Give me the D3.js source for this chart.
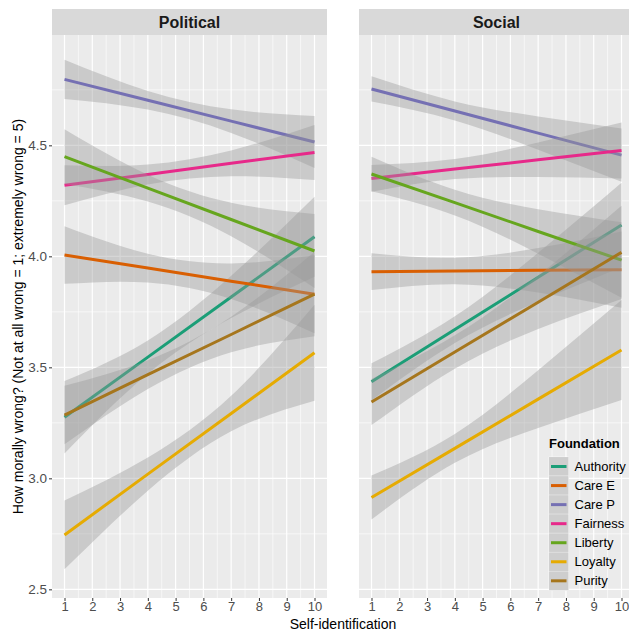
<!DOCTYPE html>
<html>
<head>
<meta charset="utf-8">
<script src="https://cdnjs.cloudflare.com/ajax/libs/d3/7.8.5/d3.min.js"></script>
<style>
body { margin: 0; background: #fff; }
text { font-family: "Liberation Sans", Arial, Helvetica, sans-serif; }
</style>
</head>
<body>
<script>
//Width and height
var w = 629;
var h = 632;

var facets = ["Political", "Social"];
var foundations = ["Authority", "Care E", "Care P", "Fairness", "Liberty", "Loyalty", "Purity"];
var colors = ["#1B9E77", "#D95F02", "#7570B3", "#E7298A", "#66A61E", "#E6AB02", "#A6761D"];

// x positions where fit and band were read
var xPoints = [1, 4, 7, 10];
var xTicks = [1, 2, 3, 4, 5, 6, 7, 8, 9, 10];
var yTicks = [2.5, 3.0, 3.5, 4.0, 4.5];

// Political facet (order = foundations)
var politicalFit = [
	[3.275, 3.546, 3.817, 4.088],
	[4.006, 3.947, 3.888, 3.829],
	[4.797, 4.703, 4.609, 4.515],
	[4.320, 4.369, 4.419, 4.468],
	[4.449, 4.307, 4.166, 4.024],
	[2.745, 3.019, 3.292, 3.566],
	[3.285, 3.467, 3.648, 3.830]
];
var politicalLower = [
	[3.112, 3.471, 3.722, 3.908],
	[3.876, 3.882, 3.808, 3.653],
	[4.709, 4.661, 4.556, 4.398],
	[4.230, 4.324, 4.361, 4.344],
	[4.326, 4.247, 4.091, 3.857],
	[2.590, 2.944, 3.212, 3.350],
	[3.153, 3.402, 3.568, 3.640]
];
var politicalUpper = [
	[3.438, 3.621, 3.912, 4.268],
	[4.136, 4.012, 3.968, 4.005],
	[4.885, 4.745, 4.662, 4.632],
	[4.410, 4.414, 4.477, 4.592],
	[4.572, 4.367, 4.241, 4.191],
	[2.900, 3.094, 3.372, 3.782],
	[3.417, 3.532, 3.728, 4.020]
];

// Social facet
var socialFit = [
	[3.435, 3.670, 3.906, 4.141],
	[3.931, 3.934, 3.937, 3.940],
	[4.754, 4.655, 4.555, 4.456],
	[4.351, 4.393, 4.435, 4.477],
	[4.371, 4.242, 4.112, 3.983],
	[2.914, 3.135, 3.357, 3.578],
	[3.344, 3.569, 3.793, 4.018]
];
var socialLower = [
	[3.352, 3.610, 3.796, 3.951],
	[3.848, 3.874, 3.837, 3.768],
	[4.697, 4.612, 4.480, 4.336],
	[4.291, 4.348, 4.357, 4.351],
	[4.293, 4.184, 4.012, 3.813],
	[2.815, 3.070, 3.227, 3.353],
	[3.240, 3.494, 3.673, 3.808]
];
var socialUpper = [
	[3.518, 3.730, 4.016, 4.331],
	[4.014, 3.994, 4.037, 4.112],
	[4.811, 4.698, 4.630, 4.576],
	[4.411, 4.438, 4.513, 4.603],
	[4.449, 4.300, 4.212, 4.153],
	[3.013, 3.200, 3.487, 3.803],
	[3.448, 3.644, 3.913, 4.228]
];

var facetData = [
	{fit: politicalFit, lower: politicalLower, upper: politicalUpper},
	{fit: socialFit, lower: socialLower, upper: socialUpper}
];

var panelLeft = [52, 359];
var panelWidth = 275;
var panelTop = 35;
var panelBottom = 598;
var stripTop = 9;

var y = d3.scaleLinear().domain([2.461, 4.997]).range([panelBottom, panelTop]);

var svg = d3.select("body")
	.append("svg")
	.attr("width", w)
	.attr("height", h);

facets.forEach(function(facet, f) {
	var x = d3.scaleLinear().domain([0.55, 10.45]).range([panelLeft[f], panelLeft[f] + panelWidth]);
	var g = svg.append("g");

	g.append("clipPath").attr("id", "clip" + f)
		.append("rect")
		.attr("x", panelLeft[f]).attr("y", panelTop)
		.attr("width", panelWidth).attr("height", panelBottom - panelTop);

	// panel background
	g.append("rect")
		.attr("x", panelLeft[f]).attr("y", panelTop)
		.attr("width", panelWidth).attr("height", panelBottom - panelTop)
		.attr("fill", "#EBEBEB");

	// minor grid
	var yMinor = yTicks.map(function(d) { return d + 0.25; });
	g.selectAll("line.ymin").data(yMinor).enter().append("line")
		.attr("x1", panelLeft[f]).attr("x2", panelLeft[f] + panelWidth)
		.attr("y1", function(d) { return y(d); }).attr("y2", function(d) { return y(d); })
		.attr("stroke", "#fff").attr("stroke-width", 0.6);
	var xMinor = xTicks.slice(0, -1).map(function(d) { return d + 0.5; });
	g.selectAll("line.xmin").data(xMinor).enter().append("line")
		.attr("y1", panelTop).attr("y2", panelBottom)
		.attr("x1", function(d) { return x(d); }).attr("x2", function(d) { return x(d); })
		.attr("stroke", "#fff").attr("stroke-width", 0.6);

	// major grid
	g.selectAll("line.ymaj").data(yTicks).enter().append("line")
		.attr("x1", panelLeft[f]).attr("x2", panelLeft[f] + panelWidth)
		.attr("y1", function(d) { return y(d); }).attr("y2", function(d) { return y(d); })
		.attr("stroke", "#fff").attr("stroke-width", 1.2);
	g.selectAll("line.xmaj").data(xTicks).enter().append("line")
		.attr("y1", panelTop).attr("y2", panelBottom)
		.attr("x1", function(d) { return x(d); }).attr("x2", function(d) { return x(d); })
		.attr("stroke", "#fff").attr("stroke-width", 1.2);

	// smooths: ribbon then line, group by group
	var data = facetData[f];
	var area = d3.area()
		.x(function(d) { return x(d.x); })
		.y0(function(d) { return y(d.lo); })
		.y1(function(d) { return y(d.hi); })
		.curve(d3.curveNatural);
	var line = d3.line()
		.x(function(d) { return x(d.x); })
		.y(function(d) { return y(d.fit); });

	var plot = g.append("g").attr("clip-path", "url(#clip" + f + ")");
	foundations.forEach(function(name, i) {
		var pts = xPoints.map(function(xv, k) {
			return {x: xv, fit: data.fit[i][k], lo: data.lower[i][k], hi: data.upper[i][k]};
		});
		plot.append("path").attr("d", area(pts))
			.attr("fill", "#999999").attr("fill-opacity", 0.4);
		plot.append("path").attr("d", line(pts))
			.attr("fill", "none").attr("stroke", colors[i]).attr("stroke-width", 3);
	});

	// strip
	g.append("rect")
		.attr("x", panelLeft[f]).attr("y", stripTop)
		.attr("width", panelWidth).attr("height", panelTop - stripTop)
		.attr("fill", "#D9D9D9");
	g.append("text")
		.attr("x", panelLeft[f] + panelWidth / 2).attr("y", stripTop + 19)
		.attr("text-anchor", "middle")
		.attr("font-size", "16px").attr("font-weight", "bold")
		.attr("fill", "#1A1A1A")
		.text(facet);

	// x axis
	var xAxis = d3.axisBottom(x).tickValues(xTicks).tickSize(3).tickPadding(1).tickFormat(d3.format("d"));
	var xa = g.append("g").attr("transform", "translate(0," + panelBottom + ")").call(xAxis);
	xa.select(".domain").remove();
	xa.selectAll("line").attr("stroke", "#333333");
	xa.selectAll("text").attr("fill", "#4D4D4D").attr("font-size", "13px")
		.attr("font-family", "Liberation Sans, Arial, sans-serif");
});

// y axis on the left panel only
var yAxis = d3.axisLeft(y).tickValues(yTicks).tickSize(3).tickPadding(2).tickFormat(d3.format(".1f"));
var ya = svg.append("g").attr("transform", "translate(" + panelLeft[0] + ",0)").call(yAxis);
ya.select(".domain").remove();
ya.selectAll("line").attr("stroke", "#333333");
ya.selectAll("text").attr("fill", "#4D4D4D").attr("font-size", "13.5px")
	.attr("font-family", "Liberation Sans, Arial, sans-serif");

// axis titles
svg.append("text")
	.attr("x", (panelLeft[0] + panelLeft[1] + panelWidth) / 2).attr("y", 629)
	.attr("text-anchor", "middle").attr("font-size", "14px").attr("fill", "#000")
	.text("Self-identification");
svg.append("text")
	.attr("transform", "translate(22.7," + (panelTop + panelBottom) / 2 + ") rotate(-90)")
	.attr("text-anchor", "middle").attr("font-size", "14px").attr("fill", "#000")
	.text("How morally wrong? (Not at all wrong = 1; extremely wrong = 5)");

// legend
var legX = 549, legY = 457, keyW = 19.5, keyH = 19.05;
svg.append("text")
	.attr("x", legX).attr("y", legY - 9)
	.attr("font-size", "13px").attr("font-weight", "bold").attr("fill", "#000")
	.text("Foundation");
var keys = svg.selectAll("g.key").data(foundations).enter().append("g")
	.attr("transform", function(d, i) { return "translate(" + legX + "," + (legY + i * keyH) + ")"; });
keys.append("rect").attr("width", keyW).attr("height", keyH)
	.attr("fill", "#F2F2F2").attr("stroke", "#fff").attr("stroke-width", 0.6);
keys.append("rect").attr("width", keyW).attr("height", keyH)
	.attr("fill", "#999999").attr("fill-opacity", 0.4);
keys.append("line")
	.attr("x1", 2).attr("x2", keyW - 2)
	.attr("y1", keyH / 2).attr("y2", keyH / 2)
	.attr("stroke", function(d, i) { return colors[i]; }).attr("stroke-width", 3);
keys.append("text")
	.attr("x", keyW + 6).attr("y", keyH / 2 + 4.5)
	.attr("font-size", "13px").attr("fill", "#000")
	.text(function(d) { return d; });
</script>
</body>
</html>
